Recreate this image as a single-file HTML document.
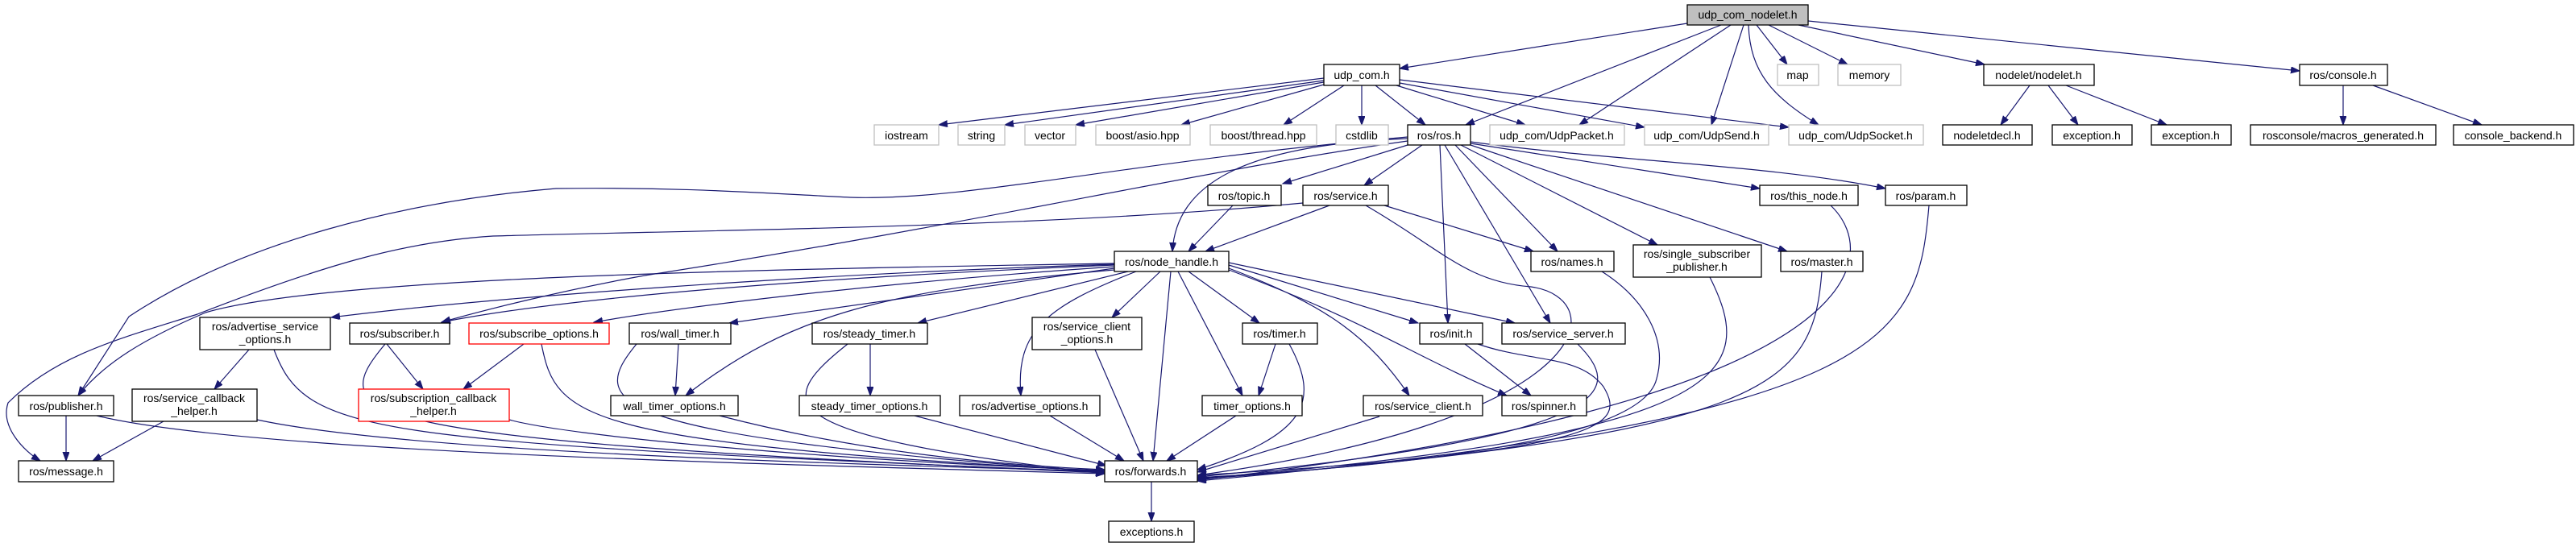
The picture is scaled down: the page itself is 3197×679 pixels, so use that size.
<!DOCTYPE html>
<html><head><meta charset="utf-8"><style>
html,body{margin:0;padding:0;background:#fff}
svg{display:block}
text{font-family:"Liberation Sans","DejaVu Sans",sans-serif;font-size:14px;fill:#000;text-anchor:middle}
.n{fill:#fff;stroke:#000;stroke-width:1.3}
.g{fill:#fff;stroke:#bfbfbf;stroke-width:1.3}
.r{fill:#fff;stroke:#ff0000;stroke-width:1.3}
.e path{fill:none;stroke:#191970;stroke-width:1.2;marker-end:url(#a)}
</style></head><body>
<svg width="3197" height="679" viewBox="0 0 3197 679" xmlns="http://www.w3.org/2000/svg">
<defs><marker id="a" markerUnits="userSpaceOnUse" markerWidth="12" markerHeight="9" refX="11" refY="4" orient="auto"><path d="M0,0 L11,4 L0,8 z" fill="#191970" stroke="#191970"/></marker></defs>
<g class="e">
<!-- udp_com_nodelet -->
<path d="M2094,29 L1737,85"/>
<path d="M2136,31 L1819,155"/>
<path d="M2148,31 L1960,155"/>
<path d="M2164,31 L2124,155"/>
<path d="M2170,31 C2172,90 2200,120 2257,155"/>
<path d="M2180,31 L2218,80"/>
<path d="M2195,31 L2293,80"/>
<path d="M2232,31 L2463,80"/>
<path d="M2244,26 L2854,88"/>
<!-- udp_com.h -->
<path d="M1643,97 L1165,155"/>
<path d="M1643,100 L1247,155"/>
<path d="M1643,102 L1335,155"/>
<path d="M1643,105 L1466,155"/>
<path d="M1668,106 L1593,155"/>
<path d="M1690,106 L1690,155"/>
<path d="M1707,106 L1769,155"/>
<path d="M1733,106 L1893,155"/>
<path d="M1737,103 L2041,158"/>
<path d="M1737,99 L2220,158"/>
<!-- nodelet / console -->
<path d="M2519,106 L2483,155"/>
<path d="M2542,106 L2579,155"/>
<path d="M2564,106 L2689,155"/>
<path d="M2908,106 L2908,155"/>
<path d="M2945,106 L3080,155"/>
<!-- ros.h -->
<path d="M1747,172 C1540,180 1460,230 1455,312"/>
<path d="M1747,180 L1592,228"/>
<path d="M1765,180 L1693,230"/>
<path d="M1806,180 L1933,312"/>
<path d="M1813,180 L2057,304"/>
<path d="M1825,180 L2218,312"/>
<path d="M1825,178 L2184,234"/>
<path d="M1825,176 C2000,200 2200,205 2340,234"/>
<path d="M1787,180 L1797,401"/>
<path d="M1793,180 L1924,401"/>
<path d="M1747,170 C1400,200 1200,250 1055,245 C950,240 850,232 690,234 C500,250 300,300 160,393 L97,491"/>
<path d="M1747,175 C1500,210 1200,280 800,342 C700,360 600,385 548,400"/>
<!-- service.h / topic.h -->
<path d="M1617,252 C1300,282 900,285 612,293 C500,300 400,330 245,390 C150,420 70,440 10,500 C0,530 30,560 50,572"/>
<path d="M1650,255 L1496,312"/>
<path d="M1530,255 L1475,312"/>
<path d="M1718,255 L1903,312"/>
<path d="M1695,255 C1790,310 1820,350 1900,356 C2000,370 1990,520 1486,590"/>
<!-- node_handle -->
<path d="M1383,327 C900,335 400,345 255,388 C180,420 130,450 97,491"/>
<path d="M1383,328 C1000,340 600,370 411,394"/>
<path d="M1383,329 C1000,345 700,370 548,400"/>
<path d="M1383,331 C1100,350 850,380 737,400"/>
<path d="M1383,333 L905,401"/>
<path d="M1383,335 C1100,360 980,390 851,491"/>
<path d="M1400,337 L1139,401"/>
<path d="M1410,337 C1300,380 1260,410 1267,491"/>
<path d="M1440,337 L1380,394"/>
<path d="M1453,337 L1431,572"/>
<path d="M1462,337 L1542,491"/>
<path d="M1475,337 L1563,401"/>
<path d="M1525,329 L1760,401"/>
<path d="M1525,326 L1880,401"/>
<path d="M1525,333 C1650,380 1700,420 1749,491"/>
<path d="M1525,335 C1700,400 1750,440 1870,491"/>
<!-- mid/lower -->
<path d="M309,434 L266,483"/>
<path d="M203,523 L115,572"/>
<path d="M82,516 L82,572"/>
<path d="M480,427 L525,483"/>
<path d="M650,427 L575,483"/>
<path d="M842,427 L838,491"/>
<path d="M1080,427 L1080,491"/>
<path d="M1583,427 L1562,491"/>
<path d="M1818,427 L1900,491"/>
<path d="M1429,598 L1429,647"/>
<!-- into forwards -->
<path d="M120,516 C300,560 900,575 1371,588"/>
<path d="M340,434 C380,540 450,548 1371,586"/>
<path d="M319,521 C500,560 1000,575 1371,585"/>
<path d="M478,427 C400,520 430,545 1371,587"/>
<path d="M632,521 C700,540 1000,570 1371,584"/>
<path d="M672,427 C690,520 720,550 1371,585"/>
<path d="M790,427 C730,500 740,540 1371,586"/>
<path d="M893,516 C1100,570 1300,580 1371,583"/>
<path d="M1052,427 C960,500 950,540 1371,588"/>
<path d="M1135,516 L1373,578"/>
<path d="M1303,516 L1395,572"/>
<path d="M1359,434 L1419,572"/>
<path d="M1534,516 L1448,572"/>
<path d="M1600,427 C1640,500 1620,540 1486,583"/>
<path d="M1712,517 L1486,586"/>
<path d="M1834,427 C1900,450 1960,440 1990,480 C2020,530 1990,560 1486,590"/>
<path d="M1958,427 C2010,480 2030,540 1486,592"/>
<path d="M1988,337 C2040,370 2070,420 2056,470 C2040,540 1800,575 1486,593"/>
<path d="M2122,344 C2180,460 2160,540 1486,594"/>
<path d="M2261,337 C2250,480 2200,540 1486,595"/>
<path d="M2272,255 C2340,320 2320,500 1486,596"/>
<path d="M2394,255 C2380,420 2350,520 1486,597"/>
</g>
<!-- nodes -->
<rect x="2094" y="6" width="150" height="25" fill="#bfbfbf" stroke="#000" stroke-width="1.3"/><text x="2169" y="23">udp_com_nodelet.h</text>
<rect class="n" x="1643" y="80" width="94" height="26"/><text x="1690" y="98">udp_com.h</text>
<rect class="g" x="2206" y="80" width="51" height="26"/><text x="2231" y="98">map</text>
<rect class="g" x="2281" y="80" width="78" height="26"/><text x="2320" y="98">memory</text>
<rect class="n" x="2462" y="80" width="137" height="26"/><text x="2530" y="98">nodelet/nodelet.h</text>
<rect class="n" x="2854" y="80" width="109" height="26"/><text x="2908" y="98">ros/console.h</text>

<rect class="g" x="1085" y="155" width="80" height="25"/><text x="1125" y="173">iostream</text>
<rect class="g" x="1189" y="155" width="58" height="25"/><text x="1218" y="173">string</text>
<rect class="g" x="1272" y="155" width="63" height="25"/><text x="1303" y="173">vector</text>
<rect class="g" x="1360" y="155" width="117" height="25"/><text x="1418" y="173">boost/asio.hpp</text>
<rect class="g" x="1502" y="155" width="132" height="25"/><text x="1568" y="173">boost/thread.hpp</text>
<rect class="g" x="1658" y="155" width="65" height="25"/><text x="1690" y="173">cstdlib</text>
<rect class="n" x="1747" y="155" width="78" height="25"/><text x="1786" y="173">ros/ros.h</text>
<rect class="g" x="1849" y="155" width="167" height="25"/><text x="1932" y="173">udp_com/UdpPacket.h</text>
<rect class="g" x="2041" y="155" width="154" height="25"/><text x="2118" y="173">udp_com/UdpSend.h</text>
<rect class="g" x="2220" y="155" width="167" height="25"/><text x="2303" y="173">udp_com/UdpSocket.h</text>
<rect class="n" x="2411" y="155" width="111" height="25"/><text x="2466" y="173">nodeletdecl.h</text>
<rect class="n" x="2547" y="155" width="99" height="25"/><text x="2596" y="173">exception.h</text>
<rect class="n" x="2670" y="155" width="99" height="25"/><text x="2719" y="173">exception.h</text>
<rect class="n" x="2793" y="155" width="230" height="25"/><text x="2908" y="173">rosconsole/macros_generated.h</text>
<rect class="n" x="3045" y="155" width="149" height="25"/><text x="3119" y="173">console_backend.h</text>

<rect class="n" x="1499" y="230" width="91" height="25"/><text x="1544" y="248">ros/topic.h</text>
<rect class="n" x="1617" y="230" width="106" height="25"/><text x="1670" y="248">ros/service.h</text>
<rect class="n" x="2184" y="230" width="122" height="25"/><text x="2245" y="248">ros/this_node.h</text>
<rect class="n" x="2340" y="230" width="101" height="25"/><text x="2390" y="248">ros/param.h</text>

<rect class="n" x="1383" y="312" width="142" height="25"/><text x="1454" y="330">ros/node_handle.h</text>
<rect class="n" x="1900" y="312" width="103" height="25"/><text x="1951" y="330">ros/names.h</text>
<rect class="n" x="2027" y="304" width="159" height="40"/><text x="2106" y="320">ros/single_subscriber</text><text x="2106" y="336">_publisher.h</text>
<rect class="n" x="2210" y="312" width="102" height="25"/><text x="2261" y="330">ros/master.h</text>

<rect class="n" x="248" y="394" width="162" height="40"/><text x="329" y="410">ros/advertise_service</text><text x="329" y="426">_options.h</text>
<rect class="n" x="434" y="401" width="124" height="26"/><text x="496" y="419">ros/subscriber.h</text>
<rect class="r" x="582" y="401" width="174" height="26"/><text x="669" y="419">ros/subscribe_options.h</text>
<rect class="n" x="781" y="401" width="126" height="26"/><text x="844" y="419">ros/wall_timer.h</text>
<rect class="n" x="1008" y="401" width="143" height="26"/><text x="1079" y="419">ros/steady_timer.h</text>
<rect class="n" x="1281" y="394" width="136" height="40"/><text x="1349" y="410">ros/service_client</text><text x="1349" y="426">_options.h</text>
<rect class="n" x="1542" y="401" width="93" height="26"/><text x="1588" y="419">ros/timer.h</text>
<rect class="n" x="1762" y="401" width="78" height="26"/><text x="1801" y="419">ros/init.h</text>
<rect class="n" x="1864" y="401" width="153" height="26"/><text x="1940" y="419">ros/service_server.h</text>

<rect class="n" x="23" y="491" width="118" height="25"/><text x="82" y="509">ros/publisher.h</text>
<rect class="n" x="164" y="483" width="155" height="40"/><text x="241" y="499">ros/service_callback</text><text x="241" y="515">_helper.h</text>
<rect class="r" x="445" y="483" width="187" height="40"/><text x="538" y="499">ros/subscription_callback</text><text x="538" y="515">_helper.h</text>
<rect class="n" x="758" y="491" width="158" height="25"/><text x="837" y="509">wall_timer_options.h</text>
<rect class="n" x="992" y="491" width="175" height="25"/><text x="1079" y="509">steady_timer_options.h</text>
<rect class="n" x="1191" y="491" width="174" height="25"/><text x="1278" y="509">ros/advertise_options.h</text>
<rect class="n" x="1492" y="491" width="124" height="25"/><text x="1554" y="509">timer_options.h</text>
<rect class="n" x="1692" y="491" width="148" height="25"/><text x="1766" y="509">ros/service_client.h</text>
<rect class="n" x="1864" y="491" width="105" height="25"/><text x="1916" y="509">ros/spinner.h</text>

<rect class="n" x="23" y="572" width="118" height="26"/><text x="82" y="590">ros/message.h</text>
<rect class="n" x="1371" y="572" width="115" height="26"/><text x="1428" y="590">ros/forwards.h</text>
<rect class="n" x="1376" y="647" width="106" height="26"/><text x="1429" y="665">exceptions.h</text>
</svg>
</body></html>
